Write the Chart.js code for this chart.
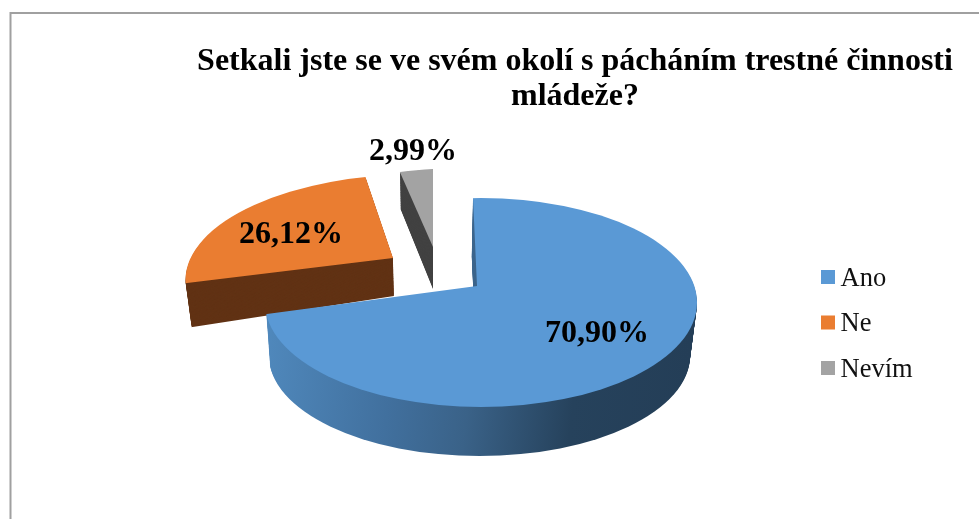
<!DOCTYPE html>
<html lang="cs">
<head>
  <meta charset="UTF-8">
  <title>Setkali jste se ve svém okolí s pácháním trestné činnosti mládeže?</title>
  <script src="https://cdn.jsdelivr.net/npm/chart.js"></script>
  <style>
    body { margin: 0; background: #fff; }
    canvas { display: block; }
  </style>
</head>
<body>
  <canvas id="pieChart" width="979" height="519"></canvas>

  <script>
    const categories = ['Ano', 'Ne', 'Nevím'];
    const shares = [70.90, 26.12, 2.99];
    const colors = ['#5a99d5', '#ea7d31', '#a3a3a3'];
    const titleLines = ['Setkali jste se ve svém okolí s pácháním trestné činnosti', 'mládeže?'];

    const SERIF = '"Liberation Serif", "Times New Roman", serif';

    // Fake 3D: each slice gets an affine map for its top face and for its bottom face.
    // m = [a, b, c, d] turns the unit circle into the tilted, exploded ellipse.
    // clip is the rim ellipse, the wedge itself is drawn oversized and cut by it.
    const slices3d = [
      {
        top: { apex: [477, 286], m: [329, -8.6, 6, 132], clip: [481, 302.5, 216, 104.5] },
        bottom: { apex: [475.5, 339], m: [329, -8.6, 6, 132], clip: [479.5, 356, 210.5, 100] },
        wall: 'gradient',
        label: [597, 342]
      },
      {
        top: { apex: [393, 258], m: [274, -5.5, -16.1, 106.9], clip: [420.5, 280, 235, 106] },
        bottom: { apex: [394, 296], m: [267.3, -13.5, -16.1, 106.9], clip: [426.5, 324, 235, 106] },
        wall: '#613214',
        label: [291, 243]
      },
      {
        top: { apex: [433, 247], m: [177.4, -9, 0, 78] },
        bottom: { apex: [433, 289], m: [173.7, 17.8, 0, 78] },
        wall: '#424242',
        label: [413, 160]
      }
    ];
    const wallStops = [[266, '#5089bd'], [400, '#41709e'], [480, '#3a6288'], [585, '#26425c'], [697, '#243e57']];
    const WALL_STEPS = 54;

    function lerp(p, q, t) { return p + (q - p) * t; }

    function faceAt(slice, t) {
      const { top, bottom } = slice;
      return {
        apex: top.apex.map((v, i) => lerp(v, bottom.apex[i], t)),
        m: top.m.map((v, i) => lerp(v, bottom.m[i], t)),
        clip: top.clip ? top.clip.map((v, i) => lerp(v, bottom.clip[i], t)) : null
      };
    }

    function faceMatrix(arc, face) {
      const R = arc.outerRadius;
      const [a, b, c, d] = face.m.map(v => v / R);
      return new DOMMatrix([a, b, c, d,
        face.apex[0] - (a * arc.x + c * arc.y),
        face.apex[1] - (b * arc.x + d * arc.y)]);
    }

    function drawFace(ctx, arc, face, fill) {
      const saved = arc.options;
      const mtx = faceMatrix(arc, face);
      ctx.save();
      if (face.clip) {
        ctx.beginPath();
        ctx.ellipse(face.clip[0], face.clip[1], face.clip[2], face.clip[3], 0, 0, Math.PI * 2);
        ctx.clip();
      }
      ctx.transform(mtx.a, mtx.b, mtx.c, mtx.d, mtx.e, mtx.f);
      let style = fill;
      if (fill === 'gradient') {
        // gradient is given in screen x, so bring its ends back to the arc's own space
        const inv = mtx.inverse();
        const p0 = inv.transformPoint({ x: wallStops[0][0], y: 300 });
        const p1 = inv.transformPoint({ x: wallStops[wallStops.length - 1][0], y: 300 });
        style = ctx.createLinearGradient(p0.x, p0.y, p1.x, p1.y);
        const span = wallStops[wallStops.length - 1][0] - wallStops[0][0];
        wallStops.forEach(([x, col]) => style.addColorStop((x - wallStops[0][0]) / span, col));
      }
      arc.options = { ...saved, backgroundColor: style };
      arc.draw(ctx);
      arc.options = saved;
      ctx.restore();
    }

    const tiltedPie = {
      id: 'tiltedPie',
      beforeDraw(chart) {
        const ctx = chart.ctx;
        ctx.save();
        ctx.fillStyle = '#fff';
        ctx.fillRect(0, 0, chart.width, chart.height);
        ctx.strokeStyle = '#a0a0a0';
        ctx.lineWidth = 2;
        ctx.beginPath();
        ctx.moveTo(10.5, chart.height);
        ctx.lineTo(10.5, 13);
        ctx.lineTo(chart.width, 13);
        ctx.stroke();
        ctx.restore();
      },
      beforeDatasetDraw(chart, args) {
        const ctx = chart.ctx;
        const arcs = args.meta.data;
        // back to front: small slice first, the big one last
        for (let i = arcs.length - 1; i >= 0; i--) {
          const slice = slices3d[i];
          for (let s = WALL_STEPS; s > 0; s--) {
            drawFace(ctx, arcs[i], faceAt(slice, s / WALL_STEPS), slice.wall);
          }
          drawFace(ctx, arcs[i], faceAt(slice, 0), colors[i]);
        }
        return false;
      },
      afterDatasetsDraw(chart) {
        const ctx = chart.ctx;
        ctx.save();
        ctx.fillStyle = '#000';
        ctx.textAlign = 'center';
        ctx.textBaseline = 'alphabetic';
        ctx.font = 'bold 32px ' + SERIF;
        shares.forEach((v, i) => {
          const [x, y] = slices3d[i].label;
          ctx.fillText(v.toFixed(2).replace('.', ',') + '%', x, y);
        });
        // legend, the built-in one can't get the box this close to the text
        ctx.textAlign = 'left';
        ctx.font = '26.5px ' + SERIF;
        categories.forEach((name, i) => {
          const y = 270 + i * 45.5;
          ctx.fillStyle = colors[i];
          ctx.fillRect(821, y, 14, 14);
          ctx.fillStyle = '#111';
          ctx.fillText(name, 840.5, y + 15.5);
        });
        ctx.restore();
      }
    };

    new Chart(document.getElementById('pieChart'), {
      type: 'pie',
      data: {
        labels: categories,
        datasets: [{ data: shares, backgroundColor: colors, borderWidth: 0 }]
      },
      options: {
        responsive: false,
        animation: false,
        layout: { padding: { left: 171, top: 34 } },
        plugins: {
          legend: { display: false },
          tooltip: { enabled: false },
          title: {
            display: true,
            text: titleLines,
            color: '#000',
            font: { family: SERIF, size: 32, weight: 'bold', lineHeight: 1.094 }
          }
        }
      },
      plugins: [tiltedPie]
    });
  </script>
</body>
</html>
